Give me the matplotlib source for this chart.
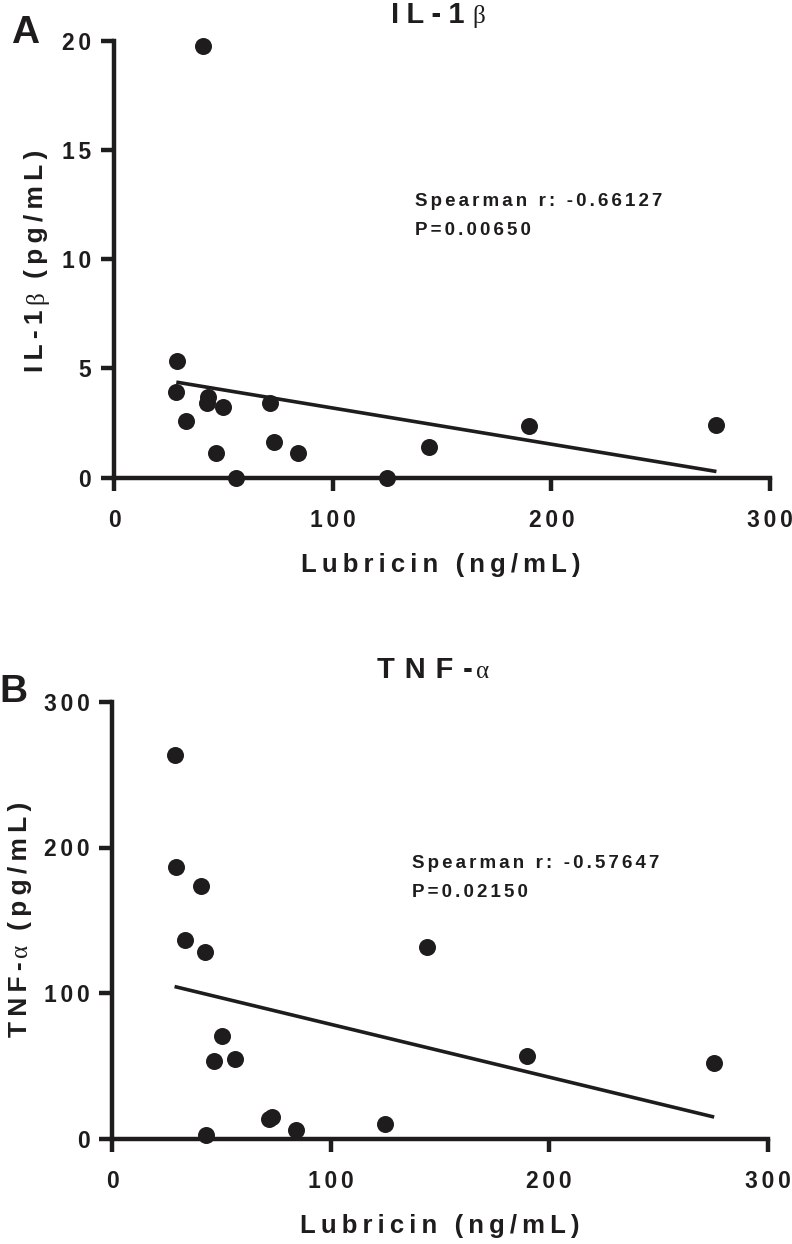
import numpy as np
import matplotlib
matplotlib.use('Agg')
import matplotlib.pyplot as plt

# ---------------- data ----------------
lubricin = [28.5, 29.0, 33.1, 40.6, 42.5, 43.0, 46.5, 50.0, 56.0,
            71.5, 73.2, 84.3, 125.0, 144.2, 189.6, 275.5]
il1b = [3.94, 5.32, 2.61, 19.76, 3.40, 3.71, 1.14, 3.22, 0.0,
        3.40, 1.65, 1.14, 0.0, 1.40, 2.37, 2.41]
tnfa = [263.7, 186.3, 136.2, 173.3, 128.0, 2.7, 53.1, 70.3, 54.3,
        13.7, 14.6, 5.5, 10.1, 131.9, 57.0, 52.0]

x_ticks = [0, 100, 200, 300]
il1b_ticks = [0, 5, 10, 15, 20]
tnfa_ticks = [0, 100, 200, 300]

x_label = "Lubricin (ng/mL)"
stats_a = ["Spearman r: -0.66127", "P=0.00650"]
stats_b = ["Spearman r: -0.57647", "P=0.02150"]

# ---------------- style ----------------
W, H = 792, 1244
INK = '#1e1c1d'
SANS = ['Liberation Sans', 'DejaVu Sans']
NARROW = ['Liberation Sans Narrow', 'Liberation Sans', 'DejaVu Sans']
SERIF = ['Liberation Serif', 'DejaVu Serif']
THIN = '\u2009'
FOUR = '\u2005'
THREE = '\u2004'
SIX = '\u2006'

plt.rcParams['font.family'] = SANS


def sp(s, sep=THIN):
    return sep.join(s)


def frac(px, py):
    return px / W, 1 - py / H


fig = plt.figure(figsize=(W / 100, H / 100), dpi=100)
fig.patch.set_facecolor('white')

axA = fig.add_axes([114 / W, 1 - 477.7 / H, 656 / W, 437 / H])
axB = fig.add_axes([112.3 / W, 1 - 1138.5 / H, 655.4 / W, 436.5 / H])


def style(ax, yticks, ymax):
    ax.set_xlim(0, 300)
    ax.set_ylim(0, ymax)
    for s in ['top', 'right']:
        ax.spines[s].set_visible(False)
    for s in ['left', 'bottom']:
        ax.spines[s].set_linewidth(3.2)
        ax.spines[s].set_color(INK)
    ax.set_xticks(x_ticks)
    ax.set_xticklabels([sp(str(v), SIX) for v in x_ticks])
    ax.set_yticks(yticks)
    ax.set_yticklabels([sp(str(v), SIX) for v in yticks])
    ax.tick_params(direction='out', length=9.5, width=3.2, color=INK,
                   labelsize=16.5, labelcolor=INK)
    ax.tick_params(axis='x', pad=13)
    ax.tick_params(axis='y', pad=7)
    for lab in ax.get_xticklabels() + ax.get_yticklabels():
        lab.set_fontweight('bold')
    ax.patch.set_alpha(0)


def draw(ax, x, y):
    x = np.asarray(x, float)
    y = np.asarray(y, float)
    ax.scatter(x, y, s=150, color=INK, linewidths=0, clip_on=False, zorder=3)
    fit = np.polyfit(x, y, 1)
    xs = np.array([x.min(), x.max()])
    ax.plot(xs, np.polyval(fit, xs), color=INK, lw=2.6,
            solid_capstyle='butt', clip_on=False, zorder=2)


style(axA, il1b_ticks, 20)
style(axB, tnfa_ticks, 300)
draw(axA, lubricin, il1b)
draw(axB, lubricin, tnfa)

renderer = fig.canvas.get_renderer()


def mixed(parts, px, py, rotation=0):
    """parts: list of (text, kwargs, gap_after_px); centred at (px, py) along the
    reading direction, baseline through py (horizontal) or px (vertical)."""
    arts, lens, gaps = [], [], []
    for s, kw, gap in parts:
        t = fig.text(0, 0, s, rotation=rotation, rotation_mode='anchor',
                     ha='left', va='baseline', color=INK, **kw)
        bb = t.get_window_extent(renderer)
        arts.append(t)
        lens.append(bb.width if rotation == 0 else bb.height)
        gaps.append(gap)
    total = sum(lens) + sum(gaps[:-1])
    pos = -total / 2
    for t, L, g in zip(arts, lens, gaps):
        if rotation == 0:
            t.set_position(frac(px + pos, py))
        else:
            t.set_position(frac(px, py - pos))
        pos += L + g


title_font = dict(fontsize=21, fontweight='bold', family=NARROW)
greek = dict(fontsize=18, fontweight='normal', family=SERIF)

# titles
mixed([(sp("IL-1", FOUR), title_font, 8), ("β", greek, 0)], 438, 23)
mixed([(sp("TNF-", THREE), title_font, 4), ("α", greek, 0)], 433, 678)

# y labels
ylab_bold = dict(fontsize=19, fontweight='bold', family=SANS)
ygreek = dict(fontsize=18, fontweight='normal', family=SERIF)
mixed([(sp("IL-1"), ylab_bold, 5), ("β", ygreek, 14), (sp("(pg/mL)"), ylab_bold, 0)],
      43, 260.5, rotation=90)
mixed([(sp("TNF-"), ylab_bold, 4), ("α", ygreek, 14), (sp("(pg/mL)"), ylab_bold, 0)],
      27, 919, rotation=90)

# x labels
for cx, by in [(441, 572.5), (440, 1233.0)]:
    fx, fy = frac(cx, by)
    fig.text(fx, fy, sp(x_label), ha='center', va='baseline', color=INK,
             fontsize=18.5, fontweight='bold')

# statistics annotations
for (lx, by), lines in [((415, 206), stats_a), ((412, 868), stats_b)]:
    for i, line in enumerate(lines):
        fx, fy = frac(lx, by + 29 * i)
        fig.text(fx, fy, sp(line, SIX), ha='left', va='baseline', color=INK,
                 fontsize=13.5, fontweight='bold')

# panel letters
for letter, lx, by in [("A", 11, 43), ("B", -1, 702)]:
    fx, fy = frac(lx, by)
    fig.text(fx, fy, letter, ha='left', va='baseline', color=INK,
             fontsize=28, fontweight='bold')

fig.savefig('out.png', dpi=100, facecolor='white')
